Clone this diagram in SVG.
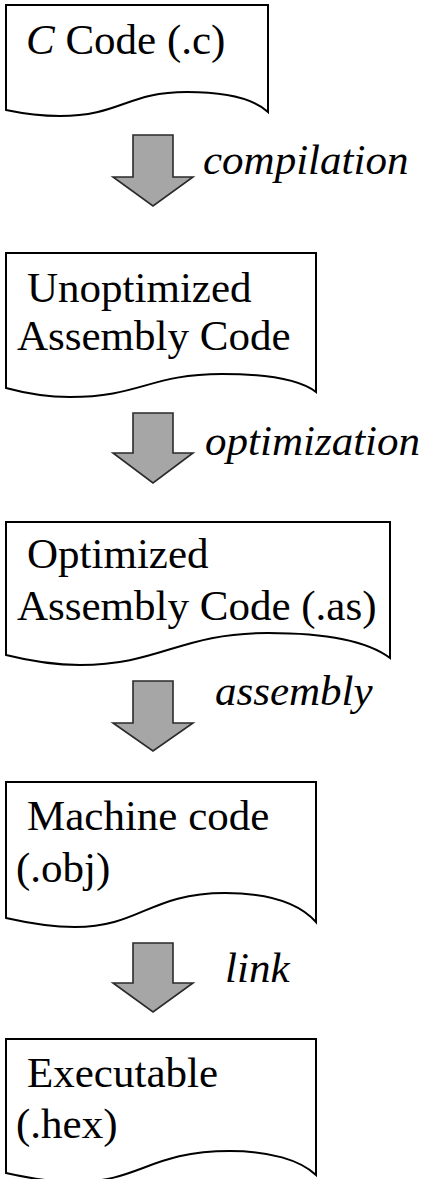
<svg xmlns="http://www.w3.org/2000/svg" width="428" height="1179" viewBox="0 0 428 1179">
<style>
.doc{fill:#fff;stroke:#000;stroke-width:2;stroke-linejoin:miter}
.t{font-family:"Liberation Serif","Times New Roman",serif;font-size:43px;fill:#000}
.i{font-style:italic}
.arr{fill:#a6a6a6;stroke:#2a2a2a;stroke-width:1.6;stroke-linejoin:miter}
</style>
<rect width="428" height="1179" fill="#fff"/>
<g id="node-c-code">
<path class="doc" d="M6,5 H268 V112 C255,100 230,92 187,92 C127,92 120,116 60,116 C45,116 25,114 6,110 Z"/>
<text class="t" x="26" y="54"><tspan class="i">C</tspan> Code (.c)</text>
</g>
<g id="node-unopt">
<path class="doc" d="M6,253 H316 V392 C300,380 270,374 222,374 C150,374 140,397 70,397 C50,397 28,394 6,388 Z"/>
<text class="t" x="27" y="302">Unoptimized</text>
<text class="t" x="17" y="350">Assembly Code</text>
</g>
<g id="node-opt">
<path class="doc" d="M6,522 H390 V658 C370,643 330,633 268,633 C180,633 160,665 80,665 C55,665 30,661 6,655 Z"/>
<text class="t" x="27" y="568">Optimized</text>
<text class="t" x="17" y="620">Assembly Code (.as)</text>
</g>
<g id="node-machine">
<path class="doc" d="M6,782 H316 V922 C300,904 270,893 225,893 C150,893 140,927 75,927 C50,927 28,923 6,918 Z"/>
<text class="t" x="27" y="830">Machine code</text>
<text class="t" x="16" y="882">(.obj)</text>
</g>
<g id="node-exec">
<path class="doc" d="M6,1039 H316 V1175 C300,1160 270,1151 230,1151 C150,1151 140,1182 75,1182 C50,1182 28,1178 6,1173 Z"/>
<text class="t" x="27" y="1087">Executable</text>
<text class="t" x="16" y="1138">(.hex)</text>
</g>
<g id="connectors">
<path class="arr" d="M133,135 H173 V177 H193 L153,206 L113,177 H133 Z"/>
<path class="arr" d="M133,413 H173 V453 H193 L153,483 L113,453 H133 Z"/>
<path class="arr" d="M133,681 H173 V723 H193 L153,751 L113,723 H133 Z"/>
<path class="arr" d="M133,943 H173 V983 H193 L153,1012 L113,983 H133 Z"/>
<text class="t i" x="203" y="174">compilation</text>
<text class="t i" x="205" y="455">optimization</text>
<text class="t i" x="215" y="705">assembly</text>
<text class="t i" x="225" y="982">link</text>
</g>
</svg>
